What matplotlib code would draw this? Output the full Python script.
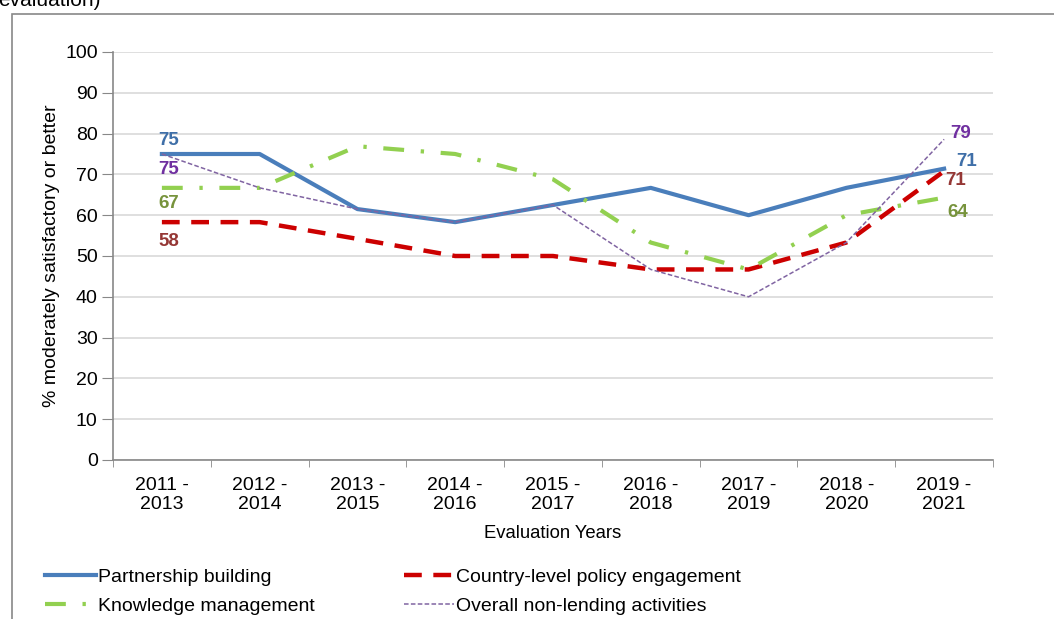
import matplotlib.pyplot as plt
from matplotlib.patches import Rectangle

plt.rcParams['font.family'] = ['Liberation Sans', 'DejaVu Sans']

years = ['2011 -\n2013', '2012 -\n2014', '2013 -\n2015', '2014 -\n2016', '2015 -\n2017',
         '2016 -\n2018', '2017 -\n2019', '2018 -\n2020', '2019 -\n2021']
partnership = [75, 75, 61.5, 58.3, 62.5, 66.7, 60, 66.7, 71.4]
policy = [58.3, 58.3, 54.2, 50, 50, 46.7, 46.7, 53.3, 70.8]
knowledge = [66.7, 66.7, 76.9, 75, 68.8, 53.3, 46.7, 60, 64.3]
overall = [75, 66.7, 61.5, 58.3, 62.5, 46.7, 40, 53.3, 78.6]

x = list(range(len(years)))

fig = plt.figure(figsize=(10.54, 6.19), dpi=100)
ax = fig.add_axes([113/1054, 1-460/619, 880/1054, 408/619])

# outer frame of the source chart
fig.patches.append(Rectangle((12/1054, -0.1), 1.2, 1 - 14/619 + 0.1, transform=fig.transFigure,
                             fill=False, edgecolor='#888888', lw=1.2))
fig.text(-0.002, 1 - 6/619, 'evaluation)', fontsize=15, va='baseline', ha='left')

l1, = ax.plot(x, partnership, color='#4A7EBB', lw=3, solid_joinstyle='round', label='Partnership building')
l2, = ax.plot(x, policy, color='#CC0000', lw=3.2, dashes=(4, 2.6), label='Country-level policy engagement')
l3, = ax.plot(x, knowledge, color='#92D050', lw=3, dashes=(5, 4, 0.8, 4), label='Knowledge management')
l4, = ax.plot(x, overall, color='#8064A2', lw=1.1, dashes=(3, 1.5), label='Overall non-lending activities')

lab = dict(fontsize=13.5, fontweight='bold', ha='center', va='center', textcoords='offset points')
ax.annotate('75', (x[0], partnership[0]), xytext=(5, 10), color='#3F6FA8', **lab)
ax.annotate('75', (x[0], overall[0]), xytext=(5, -11), color='#7030A0', **lab)
ax.annotate('67', (x[0], knowledge[0]), xytext=(5, -11.5), color='#77933C', **lab)
ax.annotate('58', (x[0], policy[0]), xytext=(5, -14), color='#953735', **lab)
ax.annotate('79', (x[-1], overall[-1]), xytext=(12, 4.3), color='#7030A0', **lab)
ax.annotate('71', (x[-1], partnership[-1]), xytext=(16.5, 5), color='#3F6FA8', **lab)
ax.annotate('71', (x[-1], policy[-1]), xytext=(8, -7), color='#953735', **lab)
ax.annotate('64', (x[-1], knowledge[-1]), xytext=(10, -10.5), color='#77933C', **lab)

ax.set_xlim(-0.5, len(years) - 0.5)
ax.set_ylim(0, 100)
ax.set_yticks(range(0, 101, 10))
ax.set_xticks(x)
ax.set_xticklabels(years, fontsize=14, linespacing=1.15)
ax.set_xticks([i + 0.5 for i in range(-1, len(years))], minor=True)
ax.tick_params(axis='x', which='major', length=0, pad=12)
ax.tick_params(axis='x', which='minor', length=5, color='#888888', direction='out')
ax.tick_params(axis='y', labelsize=14, length=8, color='#888888', direction='out', pad=3)
ax.grid(axis='y', color='#D9D9D9', lw=1.2)
ax.set_axisbelow(True)
for s in ['top', 'right']:
    ax.spines[s].set_visible(False)
for s in ['left', 'bottom']:
    ax.spines[s].set_color('#888888')
    ax.spines[s].set_linewidth(1.2)

ax.set_xlabel('Evaluation Years', fontsize=13.3, labelpad=9)
ax.set_ylabel('% moderately satisfactory or better', fontsize=14, labelpad=4)

fig.legend([l1, l3, l2, l4], [l1.get_label(), l3.get_label(), l2.get_label(), l4.get_label()],
           ncol=2, loc='upper left', bbox_to_anchor=(45/1054, 1-568/619), frameon=False,
           fontsize=14, handlelength=2.6, handletextpad=0.1, columnspacing=4.6,
           labelspacing=0.62, borderaxespad=0, borderpad=0)

fig.savefig('out.png', dpi=100)
